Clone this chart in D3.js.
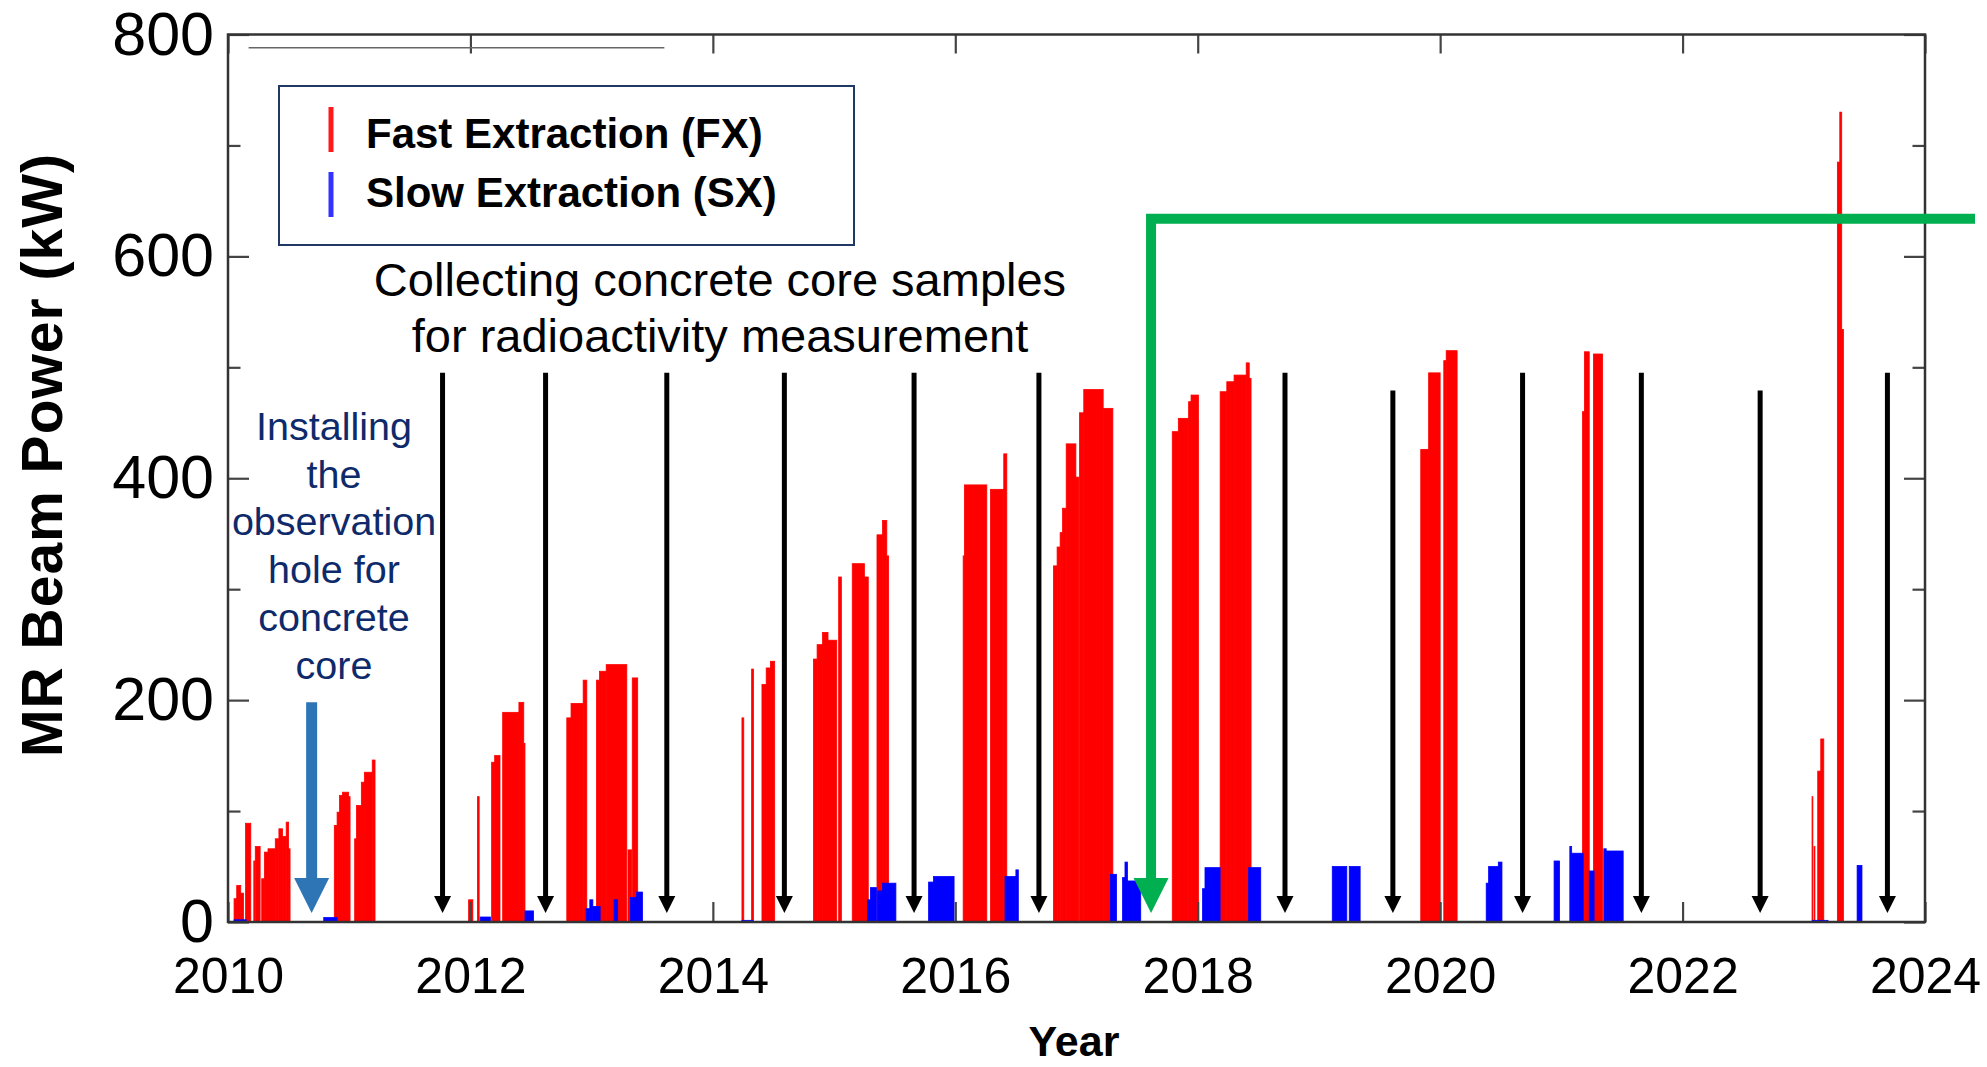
<!DOCTYPE html>
<html>
<head>
<meta charset="utf-8">
<script src="https://cdn.jsdelivr.net/npm/d3@7"></script>
<style>
  body { margin: 0; background: #fff; }
  svg text { font-family: "Liberation Sans", Arial, Helvetica, sans-serif; }
</style>
</head>
<body>
<script>
// MR beam power history: each run = [start year, end year, kW]
const fxRuns = [
  [2010.050, 2010.072, 21], [2010.072, 2010.105, 33], [2010.105, 2010.128, 26],
  [2010.145, 2010.188, 89], [2010.213, 2010.222, 55], [2010.225, 2010.265, 68],
  [2010.278, 2010.300, 39], [2010.300, 2010.330, 63], [2010.330, 2010.390, 66],
  [2010.390, 2010.420, 75], [2010.420, 2010.450, 84], [2010.450, 2010.480, 77],
  [2010.480, 2010.500, 90], [2010.500, 2010.512, 66],
  [2010.877, 2010.900, 87], [2010.900, 2010.920, 99], [2010.920, 2010.945, 114],
  [2010.945, 2010.995, 117], [2010.995, 2011.007, 113],
  [2011.045, 2011.060, 75], [2011.060, 2011.100, 105], [2011.100, 2011.125, 126],
  [2011.125, 2011.190, 135], [2011.190, 2011.213, 146],
  [2011.985, 2012.020, 20], [2012.058, 2012.072, 113],
  [2012.175, 2012.200, 144], [2012.200, 2012.244, 150],
  [2012.266, 2012.400, 189], [2012.400, 2012.440, 198], [2012.440, 2012.450, 161],
  [2012.795, 2012.830, 184], [2012.830, 2012.930, 197], [2012.930, 2012.960, 218],
  [2013.040, 2013.065, 218], [2013.065, 2013.120, 226], [2013.120, 2013.290, 232],
  [2013.300, 2013.330, 65], [2013.335, 2013.380, 220],
  [2014.240, 2014.255, 184], [2014.320, 2014.335, 228],
  [2014.405, 2014.440, 214], [2014.440, 2014.475, 229], [2014.475, 2014.510, 235],
  [2014.830, 2014.860, 237], [2014.860, 2014.905, 250], [2014.905, 2014.950, 261],
  [2014.950, 2015.022, 254], [2015.038, 2015.060, 311],
  [2015.150, 2015.250, 323], [2015.250, 2015.282, 311],
  [2015.354, 2015.400, 349], [2015.400, 2015.435, 362], [2015.435, 2015.450, 330],
  [2016.065, 2016.075, 330], [2016.075, 2016.260, 394],
  [2016.290, 2016.400, 390], [2016.400, 2016.425, 422],
  [2016.810, 2016.840, 321], [2016.840, 2016.865, 338], [2016.865, 2016.885, 351],
  [2016.885, 2016.915, 373], [2016.915, 2016.995, 431], [2016.995, 2017.020, 401],
  [2017.025, 2017.060, 459], [2017.060, 2017.220, 480], [2017.220, 2017.300, 463],
  [2017.790, 2017.840, 442], [2017.840, 2017.925, 454], [2017.925, 2017.945, 469],
  [2017.945, 2018.006, 475],
  [2018.185, 2018.240, 478], [2018.240, 2018.300, 487], [2018.300, 2018.400, 493],
  [2018.400, 2018.425, 504], [2018.425, 2018.440, 490],
  [2019.840, 2019.905, 426], [2019.905, 2020.000, 495],
  [2020.030, 2020.050, 506], [2020.050, 2020.140, 515],
  [2021.175, 2021.190, 460], [2021.190, 2021.230, 514], [2021.265, 2021.340, 512],
  [2023.068, 2023.075, 113], [2023.085, 2023.092, 68],
  [2023.115, 2023.140, 136], [2023.140, 2023.165, 165],
  [2023.277, 2023.297, 685], [2023.297, 2023.313, 730], [2023.313, 2023.327, 534]
];

const sxRuns = [
  [2010.050, 2010.150, 2], [2010.790, 2010.900, 4],
  [2012.080, 2012.165, 4.5], [2012.450, 2012.520, 10],
  [2012.955, 2012.985, 12], [2012.985, 2013.010, 20], [2013.010, 2013.070, 14],
  [2013.185, 2013.215, 20], [2013.320, 2013.370, 22], [2013.370, 2013.420, 27],
  [2014.240, 2014.330, 1.5],
  [2015.275, 2015.300, 20], [2015.300, 2015.350, 31], [2015.360, 2015.400, 28],
  [2015.400, 2015.510, 35],
  [2015.780, 2015.820, 36], [2015.820, 2015.990, 41],
  [2016.410, 2016.500, 41], [2016.500, 2016.520, 47],
  [2017.280, 2017.330, 43], [2017.380, 2017.400, 40], [2017.400, 2017.420, 54],
  [2017.420, 2017.530, 37],
  [2018.040, 2018.060, 30], [2018.060, 2018.185, 49], [2018.420, 2018.520, 49],
  [2019.110, 2019.230, 50], [2019.250, 2019.340, 50],
  [2020.380, 2020.400, 35], [2020.400, 2020.480, 50], [2020.480, 2020.510, 54],
  [2020.940, 2020.985, 55], [2021.070, 2021.085, 68], [2021.085, 2021.180, 62],
  [2021.230, 2021.270, 46], [2021.350, 2021.370, 66], [2021.370, 2021.510, 64],
  [2023.070, 2023.200, 1.5], [2023.440, 2023.480, 51]
];

// concrete core sampling dates and where each arrow starts (kW)
const sampleYears = [2011.77, 2012.62, 2013.62, 2014.59, 2015.66, 2016.69,
                     2018.72, 2019.61, 2020.68, 2021.66, 2022.64, 2023.69];
const sampleTops = [495, 495, 495, 495, 495, 495, 495, 479, 495, 495, 479, 495];

const holeYear = 2010.69, holeTop = 198;
const greenYear = 2017.615, greenLevel = 634;

const yTicks = [0, 200, 400, 600, 800];
const yMinor = [100, 300, 500, 700];
const xTicks = [2010, 2012, 2014, 2016, 2018, 2020, 2022, 2024];

const legendLabels = ["Fast Extraction (FX)", "Slow Extraction (SX)"];
const noteLines = ["Collecting concrete core samples", "for radioactivity measurement"];
const holeLines = ["Installing", "the", "observation", "hole for", "concrete", "core"];

let width = 1987, height = 1067;
let svg = d3.select("body").append("svg")
  .attr("width", width).attr("height", height);

let x = d3.scaleLinear().domain([2010, 2024]).range([228, 1925]);
let y = d3.scaleLinear().domain([0, 800]).range([922, 34.5]);

// bars
function drawRuns(runs, color) {
  svg.append("g").selectAll("rect")
    .data(runs)
    .join("rect")
    .attr("x", d => x(d[0]))
    .attr("width", d => Math.max(0.8, x(d[1]) - x(d[0])))
    .attr("y", d => y(d[2]))
    .attr("height", d => y(0) - y(d[2]))
    .attr("fill", color)
    .attr("stroke", color)
    .attr("stroke-width", 0.8);
}
drawRuns(fxRuns, "#ff0000");
drawRuns(sxRuns, "#0000ff");

// axes, ticks pointing inward
let axisColor = "#444";
function styleAxis(g) {
  g.select(".domain").remove();
  g.selectAll(".tick line").attr("stroke", axisColor).attr("stroke-width", 2.2);
}

svg.append("g").attr("transform", `translate(${x.range()[0]},0)`)
  .call(d3.axisLeft(y).tickValues(yTicks).tickSize(-21).tickPadding(14))
  .call(styleAxis)
  .call(g => g.selectAll("text").attr("font-size", 61).attr("fill", "#000")
    .attr("font-family", "'Liberation Sans', Arial, sans-serif"));
svg.append("g").attr("transform", `translate(${x.range()[0]},0)`)
  .call(d3.axisLeft(y).tickValues(yMinor).tickSize(-12.5).tickFormat(""))
  .call(styleAxis);
svg.append("g").attr("transform", `translate(${x.range()[1]},0)`)
  .call(d3.axisRight(y).tickValues(yTicks).tickSize(-21).tickFormat(""))
  .call(styleAxis);
svg.append("g").attr("transform", `translate(${x.range()[1]},0)`)
  .call(d3.axisRight(y).tickValues(yMinor).tickSize(-12.5).tickFormat(""))
  .call(styleAxis);
svg.append("g").attr("transform", `translate(0,${y(0)})`)
  .call(d3.axisBottom(x).tickValues(xTicks).tickSize(-20).tickPadding(35).tickFormat(d3.format("d")))
  .call(styleAxis)
  .call(g => g.selectAll("text").attr("font-size", 50).attr("fill", "#000")
    .attr("font-family", "'Liberation Sans', Arial, sans-serif"));
svg.append("g").attr("transform", `translate(0,${y(800)})`)
  .call(d3.axisTop(x).tickValues(xTicks).tickSize(-19).tickFormat(""))
  .call(styleAxis);

// frame
svg.append("rect")
  .attr("x", x(2010)).attr("y", y(800))
  .attr("width", x(2024) - x(2010)).attr("height", y(0) - y(800))
  .attr("fill", "none").attr("stroke", "#333").attr("stroke-width", 2.5);

// stray grey line near the top of the frame
svg.append("line")
  .attr("x1", x(2010.17)).attr("x2", x(2013.6))
  .attr("y1", y(788)).attr("y2", y(788))
  .attr("stroke", "#666").attr("stroke-width", 1.6);

// axis titles
svg.append("text")
  .attr("transform", "translate(62,455) rotate(-90)")
  .attr("text-anchor", "middle")
  .attr("font-size", 57).attr("font-weight", "bold")
  .attr("letter-spacing", 1)
  .text("MR Beam Power (kW)");
svg.append("text")
  .attr("x", 1074).attr("y", 1056)
  .attr("text-anchor", "middle")
  .attr("font-size", 43).attr("font-weight", "bold")
  .text("Year");

// legend
let lg = svg.append("g");
lg.append("rect")
  .attr("x", 279).attr("y", 86).attr("width", 575).attr("height", 159)
  .attr("fill", "#fff").attr("stroke", "#1f3864").attr("stroke-width", 2);
[["#ff1a1a", 107, 148], ["#3333ff", 172, 207]].forEach((c, i) => {
  lg.append("line")
    .attr("x1", 331).attr("x2", 331).attr("y1", c[1]).attr("y2", c[1] + 45)
    .attr("stroke", c[0]).attr("stroke-width", 5);
  lg.append("text")
    .attr("x", 366).attr("y", c[2])
    .attr("font-size", 42).attr("font-weight", "bold")
    .text(legendLabels[i]);
});

// sampling annotation
svg.append("g").selectAll("text")
  .data(noteLines)
  .join("text")
  .attr("x", 720)
  .attr("y", (d, i) => 296 + i * 56)
  .attr("text-anchor", "middle")
  .attr("font-size", 47)
  .text(d => d);

let tipY = y(0) - 9;

function arrow(g, cx, top, color, shaftW, headW, headH) {
  g.append("line")
    .attr("x1", cx).attr("x2", cx)
    .attr("y1", top).attr("y2", tipY - headH + 2)
    .attr("stroke", color).attr("stroke-width", shaftW);
  g.append("path")
    .attr("d", `M${cx - headW / 2},${tipY - headH}L${cx + headW / 2},${tipY - headH}L${cx},${tipY}Z`)
    .attr("fill", color);
}

let ag = svg.append("g");
sampleYears.forEach((t, i) => arrow(ag, x(t), y(sampleTops[i]), "#000", 5, 17, 17));

// observation hole arrow and text
arrow(svg.append("g"), x(holeYear), y(holeTop), "#2e75b6", 11, 35, 35);
svg.append("g").selectAll("text")
  .data(holeLines)
  .join("text")
  .attr("x", 334)
  .attr("y", (d, i) => 440 + i * 47.7)
  .attr("text-anchor", "middle")
  .attr("font-size", 39.5)
  .attr("fill", "#0e2a6b")
  .text(d => d);

// green arrow
let gx = x(greenYear), gy = y(greenLevel);
let gg = svg.append("g");
gg.append("path")
  .attr("d", `M1975,${gy}L${gx},${gy}L${gx},${tipY - 33}`)
  .attr("fill", "none").attr("stroke", "#00b050").attr("stroke-width", 10)
  .attr("stroke-linejoin", "miter");
gg.append("path")
  .attr("d", `M${gx - 17.5},${tipY - 35}L${gx + 17.5},${tipY - 35}L${gx},${tipY}Z`)
  .attr("fill", "#00b050");
</script>
</body>
</html>
